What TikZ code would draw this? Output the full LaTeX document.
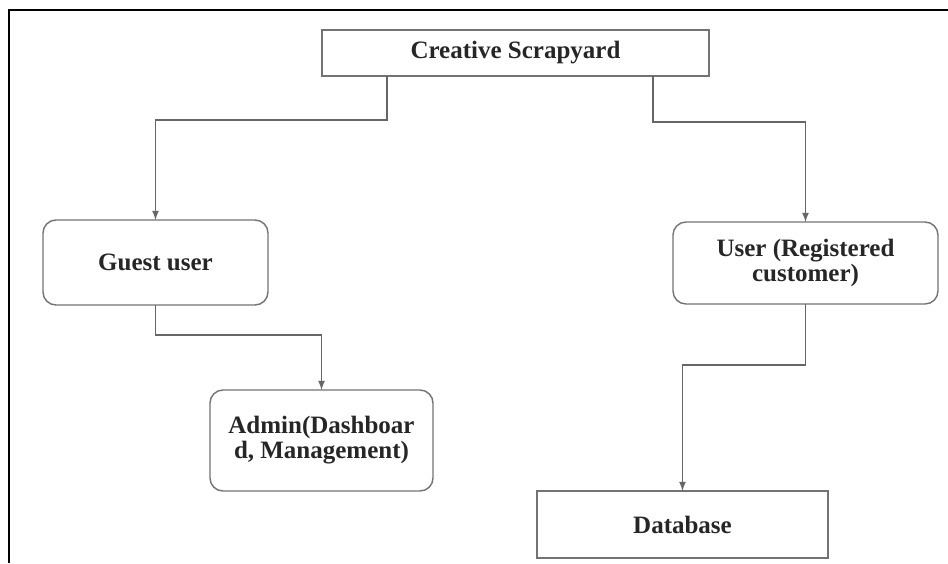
\documentclass[tikz,border=0pt]{standalone}
\usepackage{fontspec}
\setmainfont{Liberation Serif}
\usetikzlibrary{positioning}

\begin{document}
\begin{tikzpicture}[>=latex, x=0.5pt, y=-0.5pt,
    box/.style={draw=black!55, line width=0.7pt, align=center, inner sep=0pt,
        outer sep=0pt, text=black!85, font=\fontsize{12.5}{12.5}\selectfont\bfseries},
    roundbox/.style={box, rounded corners=6.5pt},
    link/.style={->, draw=black!60, line width=0.6pt}]

    \useasboundingbox (0,0) rectangle (948,563);
    % cadre
    \draw[line width=1pt] (9,563) -- (9,10) -- (948,10);

    % boites
    \node[box, minimum width=193.5pt, minimum height=23pt] (scrap) at (515.5,53) {Creative Scrapyard};
    \node[roundbox, minimum width=112.5pt, minimum height=42.5pt] (guest) at (155.5,262.5) {Guest user};
    \node[roundbox, minimum width=132.5pt, minimum height=41pt] (registered) at (805.5,263) {User (Registered\\customer)};
    \node[roundbox, minimum width=111.5pt, minimum height=50.5pt] (admin) at (321.5,440.5) {Admin(Dashboar\\d, Management)};
    \node[box, minimum width=145.5pt, minimum height=33.5pt] (database) at (682.5,524.5) {Database};

    % liaisons
    \coordinate (sl) at (387,120);
    \coordinate (sr) at (653,122);
    \draw[link] (scrap.south -| sl) -- (sl) -| (guest.north);
    \draw[link] (scrap.south -| sr) -- (sr) -| (registered.north);
    \draw[link] (guest.south) -- ++(0,30) -| (admin.north);
    \draw[link] (registered.south) -- ++(0,61) -| (database.north);
\end{tikzpicture}
\end{document}
